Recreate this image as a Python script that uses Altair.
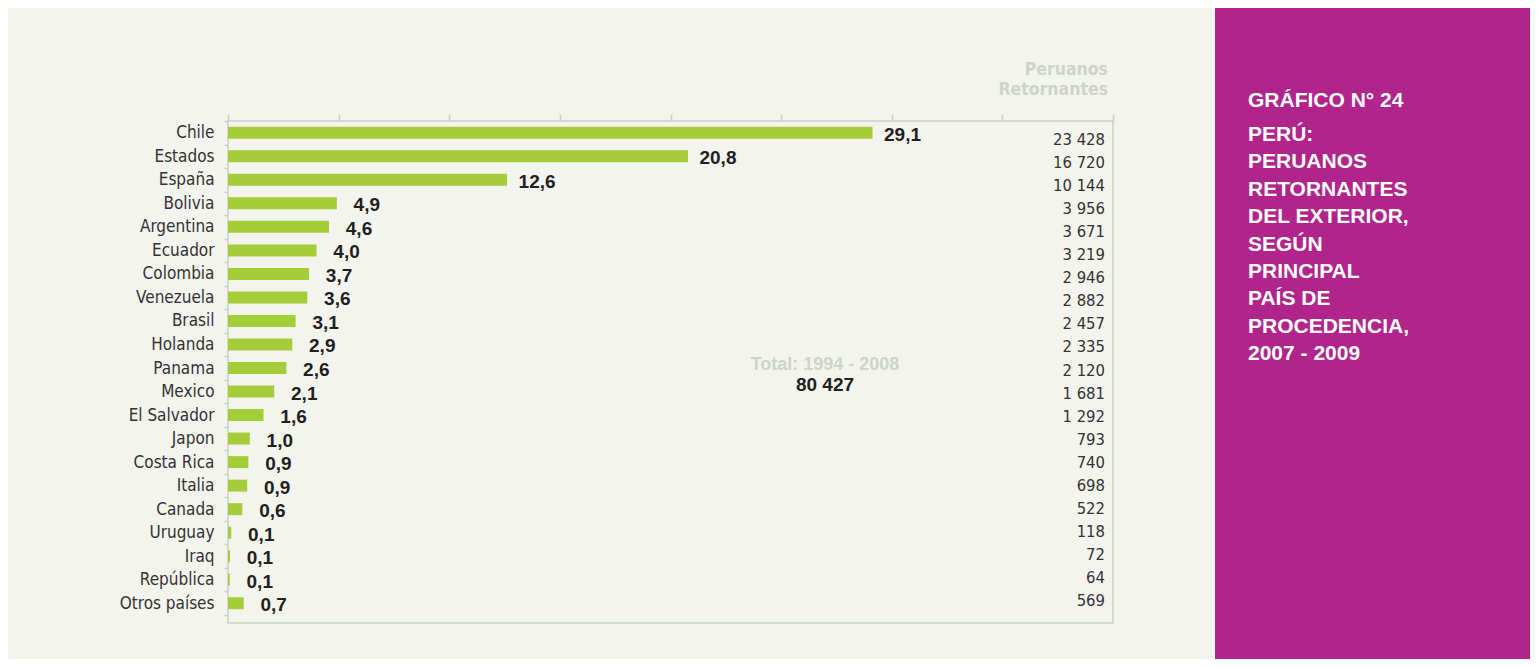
import altair as alt
import pandas as pd

countries = ["Chile", "Estados", "España", "Bolivia", "Argentina", "Ecuador", "Colombia",
             "Venezuela", "Brasil", "Holanda", "Panama", "Mexico", "El Salvador", "Japon",
             "Costa Rica", "Italia", "Canada", "Uruguay", "Iraq", "República", "Otros países"]
percent_labels = [29.1, 20.8, 12.6, 4.9, 4.6, 4.0, 3.7, 3.6, 3.1, 2.9, 2.6, 2.1, 1.6, 1.0,
                  0.9, 0.9, 0.6, 0.1, 0.1, 0.1, 0.7]
returnees = [23428, 16720, 10144, 3956, 3671, 3219, 2946, 2882, 2457, 2335, 2120, 1681, 1292,
             793, 740, 698, 522, 118, 72, 64, 569]
x_ticks = [0, 5, 10, 15, 20, 25, 30, 35, 40]

header_text = "Peruanos\nRetornantes"
total_caption = "Total: 1994 - 2008"
total_value = "80 427"
title_first = "GRÁFICO N° 24"
title_rest = "PERÚ:\nPERUANOS\nRETORNANTES\nDEL EXTERIOR,\nSEGÚN\nPRINCIPAL\nPAÍS DE\nPROCEDENCIA,\n2007 - 2009"

BEIGE = "#f4f4ee"
GREEN = "#a5cd39"
FRAME = "#c6d2c6"
LIGHT = "#cbd5ca"
MAGENTA = "#b0248c"
DARK = "#231f20"
NARROW = "Liberation Sans Narrow, DejaVu Sans Condensed, Arial Narrow, sans-serif"
SANS = "Liberation Sans, Arial, sans-serif"

df = pd.DataFrame({"country": countries, "label": percent_labels, "count": returnees})

base = alt.Chart(df).transform_joinaggregate(
    total="sum(count)"
).transform_calculate(
    share="datum.count / datum.total * 100",
    label_txt="replace(format(datum.label, '.1f'), '.', ',')",
    count_txt="replace(format(datum.count, ','), ',', ' ')",
)

x_enc = alt.X("share:Q",
              scale=alt.Scale(domain=[0, 40], nice=False, zero=True),
              axis=alt.Axis(orient="top", labels=False, ticks=True, tickSize=7,
                            tickColor=FRAME, tickWidth=1.5, domain=False, grid=False,
                            values=x_ticks, title=None))
main_scale = alt.Scale(range=[0, 494], paddingInner=0, paddingOuter=0)
y_enc = alt.Y("country:N", sort=countries, scale=main_scale,
              axis=alt.Axis(title=None, domain=False, tickBand="extent", tickSize=4,
                            tickColor=FRAME, tickWidth=1.5, labelPadding=10,
                            labelFont=NARROW, labelFontSize=17, labelColor="#333333",
                            labelLimit=300))

bars = base.mark_bar(size=12, color=GREEN).encode(x=x_enc, y=y_enc)

pct_text = base.mark_text(font=SANS, fontSize=19, fontWeight="bold", color=DARK,
                          align="center", baseline="middle", dx=30, dy=2).encode(
    x=alt.X("share:Q"), y=alt.Y("country:N", sort=countries), text="label_txt:N")

main = alt.layer(bars, pct_text)

count_text = base.mark_text(font=NARROW, fontSize=16.5, color="#333333",
                            align="right", baseline="middle").encode(
    x=alt.value(877),
    y=alt.Y("country:N", sort=countries,
            scale=alt.Scale(range=[7, 492], paddingInner=0, paddingOuter=0),
            axis=None),
    text="count_txt:N")

one = pd.DataFrame({"k": [0]})

header = alt.Chart(one).mark_text(text=header_text.split("\n"), font=NARROW, fontSize=17.5,
                                  fontWeight="bold", color=LIGHT, align="right",
                                  baseline="alphabetic", lineHeight=20).encode(
    x=alt.value(880), y=alt.value(-46))

total1 = alt.Chart(one).mark_text(text=total_caption, font=SANS, fontSize=18,
                                  fontWeight="bold", color=LIGHT, align="center",
                                  baseline="alphabetic").encode(
    x=alt.value(597), y=alt.value(249))
total2 = alt.Chart(one).mark_text(text=total_value, font=SANS, fontSize=19,
                                  fontWeight="bold", color=DARK, align="center",
                                  baseline="alphabetic").encode(
    x=alt.value(597), y=alt.value(270))

panel = alt.Chart(one).mark_rect(color=MAGENTA).encode(
    x=alt.value(987), x2=alt.value(1302), y=alt.value(-113), y2=alt.value(538))

title1 = alt.Chart(one).mark_text(text=title_first, font=SANS, fontSize=21,
                                  fontWeight="bold", color="white", align="left",
                                  baseline="alphabetic").encode(
    x=alt.value(1020), y=alt.value(-14))
title2 = alt.Chart(one).mark_text(text=title_rest.split("\n"), font=SANS, fontSize=21,
                                  fontWeight="bold", color="white", align="left",
                                  baseline="alphabetic", lineHeight=27.4).encode(
    x=alt.value(1020), y=alt.value(20))

chart = alt.layer(
    main, count_text, header, total1, total2, panel, title1, title2
).resolve_scale(y="independent").properties(
    width=885, height=502,
    autosize=alt.AutoSizeParams(type="none"),
    padding={"left": 220, "top": 113, "right": 417, "bottom": 36},
    background=BEIGE,
).configure_view(
    stroke=FRAME, strokeWidth=1.5, fill=BEIGE
)

chart.save("out.html", embed_options={"renderer": "svg", "actions": False})
